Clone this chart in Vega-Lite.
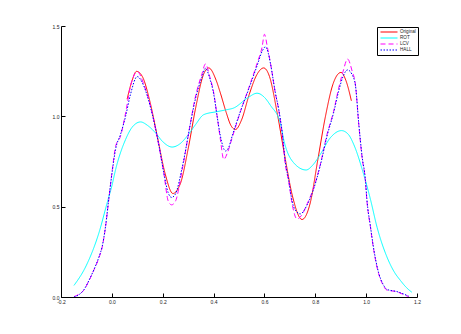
{
  "$schema": "https://vega.github.io/schema/vega-lite/v6.json",
  "autosize": {"type": "none"},
  "padding": {"left": 61, "top": 26, "right": 44, "bottom": 37},
  "width": 356,
  "height": 271,
  "background": "white",
  "config": {
    "view": {"stroke": null},
    "axis": {"grid": false, "domainColor": "black", "tickColor": "black", "labelColor": "#222", "labelFont": "Liberation Sans", "labelFontSize": 5, "tickSize": -4, "domainWidth": 1, "tickWidth": 1, "title": null, "labelPadding": 6}
  },
  "datasets": {
    "curves": [
      {"s":"Original","x":0.06,"y":1.095},{"s":"Original","x":0.08,"y":1.2},{"s":"Original","x":0.097,"y":1.249},{"s":"Original","x":0.12,"y":1.22},{"s":"Original","x":0.15,"y":1.08},{"s":"Original","x":0.18,"y":0.88},{"s":"Original","x":0.21,"y":0.68},{"s":"Original","x":0.24,"y":0.573},{"s":"Original","x":0.27,"y":0.63},{"s":"Original","x":0.3,"y":0.82},{"s":"Original","x":0.33,"y":1.05},{"s":"Original","x":0.36,"y":1.23},{"s":"Original","x":0.381,"y":1.268},{"s":"Original","x":0.41,"y":1.2},{"s":"Original","x":0.427,"y":1.128},{"s":"Original","x":0.45,"y":1.02},{"s":"Original","x":0.468,"y":0.95},{"s":"Original","x":0.486,"y":0.927},{"s":"Original","x":0.51,"y":0.98},{"s":"Original","x":0.54,"y":1.12},{"s":"Original","x":0.57,"y":1.23},{"s":"Original","x":0.597,"y":1.268},{"s":"Original","x":0.62,"y":1.22},{"s":"Original","x":0.65,"y":1.02},{"s":"Original","x":0.68,"y":0.78},{"s":"Original","x":0.71,"y":0.56},{"s":"Original","x":0.748,"y":0.429},{"s":"Original","x":0.78,"y":0.52},{"s":"Original","x":0.81,"y":0.76},{"s":"Original","x":0.84,"y":1.0},{"s":"Original","x":0.87,"y":1.18},{"s":"Original","x":0.901,"y":1.243},{"s":"Original","x":0.92,"y":1.2},{"s":"Original","x":0.942,"y":1.086},
      {"s":"ROT","x":-0.149,"y":0.064},{"s":"ROT","x":-0.1,"y":0.176},{"s":"ROT","x":-0.05,"y":0.359},{"s":"ROT","x":-0.018,"y":0.524},{"s":"ROT","x":0,"y":0.615},{"s":"ROT","x":0.015,"y":0.707},{"s":"ROT","x":0.054,"y":0.872},{"s":"ROT","x":0.08,"y":0.94},{"s":"ROT","x":0.113,"y":0.969},{"s":"ROT","x":0.14,"y":0.95},{"s":"ROT","x":0.172,"y":0.908},{"s":"ROT","x":0.2,"y":0.86},{"s":"ROT","x":0.237,"y":0.83},{"s":"ROT","x":0.265,"y":0.845},{"s":"ROT","x":0.296,"y":0.89},{"s":"ROT","x":0.329,"y":0.954},{"s":"ROT","x":0.361,"y":1.009},{"s":"ROT","x":0.414,"y":1.026},{"s":"ROT","x":0.453,"y":1.037},{"s":"ROT","x":0.479,"y":1.046},{"s":"ROT","x":0.532,"y":1.1},{"s":"ROT","x":0.571,"y":1.128},{"s":"ROT","x":0.6,"y":1.105},{"s":"ROT","x":0.624,"y":1.06},{"s":"ROT","x":0.663,"y":0.96},{"s":"ROT","x":0.676,"y":0.87},{"s":"ROT","x":0.715,"y":0.743},{"s":"ROT","x":0.764,"y":0.703},{"s":"ROT","x":0.79,"y":0.73},{"s":"ROT","x":0.82,"y":0.79},{"s":"ROT","x":0.859,"y":0.881},{"s":"ROT","x":0.903,"y":0.921},{"s":"ROT","x":0.93,"y":0.9},{"s":"ROT","x":0.951,"y":0.845},{"s":"ROT","x":0.99,"y":0.68},{"s":"ROT","x":1.017,"y":0.54},{"s":"ROT","x":1.043,"y":0.386},{"s":"ROT","x":1.082,"y":0.221},{"s":"ROT","x":1.11,"y":0.14},{"s":"ROT","x":1.134,"y":0.093},{"s":"ROT","x":1.16,"y":0.05},{"s":"ROT","x":1.18,"y":0.026},
      {"s":"LCV","x":-0.149,"y":0.002},{"s":"LCV","x":-0.13,"y":0.015},{"s":"LCV","x":-0.11,"y":0.038},{"s":"LCV","x":-0.09,"y":0.09},{"s":"LCV","x":-0.071,"y":0.148},{"s":"LCV","x":-0.05,"y":0.22},{"s":"LCV","x":-0.038,"y":0.276},{"s":"LCV","x":-0.025,"y":0.386},{"s":"LCV","x":-0.012,"y":0.54},{"s":"LCV","x":0.002,"y":0.707},{"s":"LCV","x":0.015,"y":0.835},{"s":"LCV","x":0.034,"y":0.89},{"s":"LCV","x":0.054,"y":1.018},{"s":"LCV","x":0.073,"y":1.165},{"s":"LCV","x":0.1,"y":1.247},{"s":"LCV","x":0.125,"y":1.18},{"s":"LCV","x":0.152,"y":1.055},{"s":"LCV","x":0.185,"y":0.835},{"s":"LCV","x":0.204,"y":0.688},{"s":"LCV","x":0.222,"y":0.53},{"s":"LCV","x":0.235,"y":0.51},{"s":"LCV","x":0.25,"y":0.53},{"s":"LCV","x":0.277,"y":0.707},{"s":"LCV","x":0.309,"y":0.963},{"s":"LCV","x":0.326,"y":1.092},{"s":"LCV","x":0.355,"y":1.238},{"s":"LCV","x":0.368,"y":1.29},{"s":"LCV","x":0.385,"y":1.22},{"s":"LCV","x":0.401,"y":1.128},{"s":"LCV","x":0.414,"y":1.0},{"s":"LCV","x":0.427,"y":0.87},{"s":"LCV","x":0.44,"y":0.762},{"s":"LCV","x":0.455,"y":0.8},{"s":"LCV","x":0.473,"y":0.881},{"s":"LCV","x":0.506,"y":1.027},{"s":"LCV","x":0.538,"y":1.156},{"s":"LCV","x":0.571,"y":1.293},{"s":"LCV","x":0.591,"y":1.385},{"s":"LCV","x":0.6,"y":1.454},{"s":"LCV","x":0.612,"y":1.38},{"s":"LCV","x":0.624,"y":1.293},{"s":"LCV","x":0.643,"y":1.128},{"s":"LCV","x":0.656,"y":1.037},{"s":"LCV","x":0.67,"y":0.9},{"s":"LCV","x":0.682,"y":0.735},{"s":"LCV","x":0.695,"y":0.643},{"s":"LCV","x":0.709,"y":0.515},{"s":"LCV","x":0.728,"y":0.432},{"s":"LCV","x":0.745,"y":0.45},{"s":"LCV","x":0.768,"y":0.515},{"s":"LCV","x":0.794,"y":0.606},{"s":"LCV","x":0.82,"y":0.735},{"s":"LCV","x":0.846,"y":0.9},{"s":"LCV","x":0.872,"y":1.027},{"s":"LCV","x":0.892,"y":1.156},{"s":"LCV","x":0.909,"y":1.247},{"s":"LCV","x":0.927,"y":1.317},{"s":"LCV","x":0.945,"y":1.25},{"s":"LCV","x":0.958,"y":1.174},{"s":"LCV","x":0.971,"y":0.954},{"s":"LCV","x":0.984,"y":0.771},{"s":"LCV","x":0.997,"y":0.643},{"s":"LCV","x":1.003,"y":0.533},{"s":"LCV","x":1.017,"y":0.386},{"s":"LCV","x":1.03,"y":0.258},{"s":"LCV","x":1.049,"y":0.13},{"s":"LCV","x":1.065,"y":0.07},{"s":"LCV","x":1.082,"y":0.038},{"s":"LCV","x":1.121,"y":0.029},{"s":"LCV","x":1.145,"y":0.015},{"s":"LCV","x":1.167,"y":0.002},
      {"s":"HALL","x":-0.149,"y":0.0},{"s":"HALL","x":-0.13,"y":0.012},{"s":"HALL","x":-0.11,"y":0.04},{"s":"HALL","x":-0.09,"y":0.092},{"s":"HALL","x":-0.071,"y":0.15},{"s":"HALL","x":-0.05,"y":0.225},{"s":"HALL","x":-0.038,"y":0.28},{"s":"HALL","x":-0.025,"y":0.39},{"s":"HALL","x":-0.012,"y":0.545},{"s":"HALL","x":0.002,"y":0.7},{"s":"HALL","x":0.015,"y":0.82},{"s":"HALL","x":0.034,"y":0.9},{"s":"HALL","x":0.054,"y":1.0},{"s":"HALL","x":0.073,"y":1.12},{"s":"HALL","x":0.1,"y":1.22},{"s":"HALL","x":0.125,"y":1.17},{"s":"HALL","x":0.152,"y":1.05},{"s":"HALL","x":0.185,"y":0.84},{"s":"HALL","x":0.204,"y":0.69},{"s":"HALL","x":0.222,"y":0.575},{"s":"HALL","x":0.235,"y":0.551},{"s":"HALL","x":0.25,"y":0.57},{"s":"HALL","x":0.277,"y":0.72},{"s":"HALL","x":0.309,"y":0.96},{"s":"HALL","x":0.326,"y":1.08},{"s":"HALL","x":0.355,"y":1.22},{"s":"HALL","x":0.368,"y":1.266},{"s":"HALL","x":0.385,"y":1.21},{"s":"HALL","x":0.401,"y":1.12},{"s":"HALL","x":0.414,"y":1.0},{"s":"HALL","x":0.427,"y":0.89},{"s":"HALL","x":0.447,"y":0.808},{"s":"HALL","x":0.46,"y":0.83},{"s":"HALL","x":0.473,"y":0.89},{"s":"HALL","x":0.506,"y":1.03},{"s":"HALL","x":0.538,"y":1.15},{"s":"HALL","x":0.571,"y":1.28},{"s":"HALL","x":0.591,"y":1.36},{"s":"HALL","x":0.604,"y":1.385},{"s":"HALL","x":0.615,"y":1.35},{"s":"HALL","x":0.624,"y":1.29},{"s":"HALL","x":0.643,"y":1.13},{"s":"HALL","x":0.656,"y":1.04},{"s":"HALL","x":0.67,"y":0.91},{"s":"HALL","x":0.682,"y":0.75},{"s":"HALL","x":0.695,"y":0.65},{"s":"HALL","x":0.709,"y":0.53},{"s":"HALL","x":0.728,"y":0.47},{"s":"HALL","x":0.741,"y":0.46},{"s":"HALL","x":0.768,"y":0.51},{"s":"HALL","x":0.794,"y":0.6},{"s":"HALL","x":0.82,"y":0.73},{"s":"HALL","x":0.846,"y":0.89},{"s":"HALL","x":0.872,"y":1.02},{"s":"HALL","x":0.892,"y":1.14},{"s":"HALL","x":0.909,"y":1.22},{"s":"HALL","x":0.927,"y":1.257},{"s":"HALL","x":0.945,"y":1.23},{"s":"HALL","x":0.958,"y":1.17},{"s":"HALL","x":0.971,"y":0.96},{"s":"HALL","x":0.984,"y":0.78},{"s":"HALL","x":0.997,"y":0.65},{"s":"HALL","x":1.003,"y":0.54},{"s":"HALL","x":1.017,"y":0.39},{"s":"HALL","x":1.03,"y":0.265},{"s":"HALL","x":1.049,"y":0.135},{"s":"HALL","x":1.065,"y":0.075},{"s":"HALL","x":1.082,"y":0.042},{"s":"HALL","x":1.121,"y":0.03},{"s":"HALL","x":1.145,"y":0.018},{"s":"HALL","x":1.167,"y":0.005}
    ]
  },
  "data": {"name": "curves"},
  "mark": {"type": "line", "interpolate": "monotone", "strokeWidth": 1, "clip": true},
  "encoding": {
    "x": {"field": "x", "type": "quantitative", "scale": {"domain": [-0.2, 1.2], "nice": false, "zero": false}, "axis": {"values": [-0.2, 0, 0.2, 0.4, 0.6, 0.8, 1, 1.2], "labelExpr": "replace(datum.label, '\u2212', '-')", "labelFlush": false}},
    "y": {"field": "y", "type": "quantitative", "scale": {"domain": [0, 1.5], "nice": false}, "axis": {"values": [0, 0.5, 1, 1.5], "labelFlush": false}},
    "detail": {"field": "s"},
    "color": {"field": "s", "type": "nominal", "scale": {"domain": ["Original", "ROT", "LCV", "HALL"], "range": ["#ff0000", "#00ffff", "#ff00ff", "#0000ff"]}, "sort": ["Original", "ROT", "LCV", "HALL"],
      "legend": {"title": null, "orient": "none", "legendX": 316, "legendY": 1, "symbolType": "M-4.25,0H4.25", "symbolSize": 16, "symbolStrokeWidth": 1.2, "symbolFillColor": "transparent", "labelFontSize": 4.6, "labelFont": "Liberation Sans", "labelColor": "#222", "strokeColor": "black", "fillColor": "white", "padding": 2, "rowPadding": -1, "symbolOffset": 7, "labelOffset": 8}},
    "strokeDash": {"field": "s", "type": "nominal", "scale": {"domain": ["Original", "ROT", "LCV", "HALL"], "range": [[1, 0], [1, 0], [5, 3], [1.5, 1.5]]}, "sort": ["Original", "ROT", "LCV", "HALL"], "legend": null}
  }
}
